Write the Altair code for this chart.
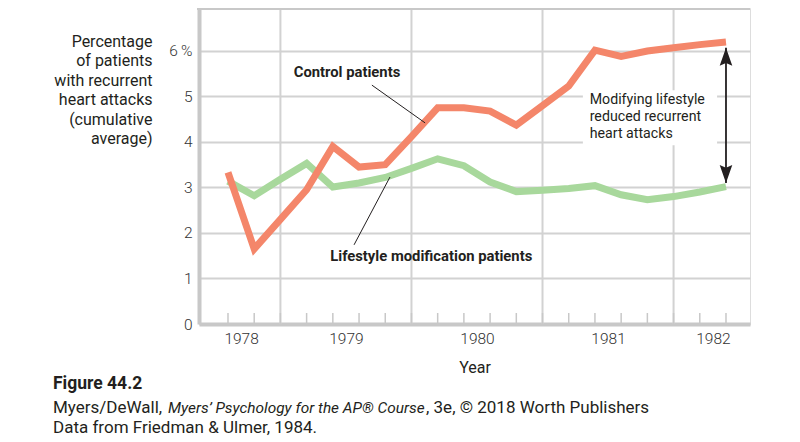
import altair as alt
import pandas as pd

# ---------------- data ----------------
period = list(range(20))  # quarterly observations, 1978-1982
control = [3.33, 1.65, 2.30, 2.95, 3.90, 3.45, 3.50, 4.12, 4.75, 4.75,
           4.68, 4.37, 4.80, 5.23, 6.02, 5.88, 6.00, 6.07, 6.14, 6.20]
lifestyle = [3.14, 2.82, 3.18, 3.53, 3.01, 3.10, 3.22, 3.42, 3.63, 3.48,
             3.12, 2.91, 2.94, 2.98, 3.04, 2.84, 2.73, 2.80, 2.90, 3.02]

year_labels = ["1978", "1979", "1980", "1981", "1982"]
year_pos = [0.5, 4.5, 9.5, 14.5, 18.5]
grid_x = [2, 7, 12, 17]
y_ticks = [0, 1, 2, 3, 4, 5, 6]

ann_text = ["Control patients", "Lifestyle modification patients"]
ann_x = [4.54, 3.9]
ann_y = [5.52, 1.48]
leader_x = [5.49, 4.81]
leader_y = [5.25, 1.74]
leader_x2 = [7.52, 6.18]
leader_y2 = [4.42, 3.23]

note_lines = ["Modifying lifestyle", "reduced recurrent", "heart attacks"]
note_x = [13.8, 13.8, 13.8]
note_y = [4.92, 4.55, 4.18]
note_box = [13.54, 18.66, 3.93, 5.14]  # x, x2, y, y2

arrow_x = 19
arrow_top = 6.07
arrow_bottom = 3.10

y_title = ["Percentage", "of patients", "with recurrent", "heart attacks",
           "(cumulative", "average)"]
footer_fig = "Figure 44.2"
footer_src = ["Myers/DeWall, ", "Myers\u2019 Psychology for the AP\u00ae Course",
              ", 3e, \u00a9 2018 Worth Publishers"]
footer_data = "Data from Friedman & Ulmer, 1984."

# ---------------- layout ----------------
W, H = 551, 316
XDOM = [-1.106, 19.916]
YDOM = [0, 6.945]
FONT = "Roboto"
DARK = "#231f20"
ORANGE = "#f4866a"
GREEN = "#a8d89c"
AXISGRAY = "#c8c8c8"
GRIDGRAY = "#d2d2d2"

xs = alt.Scale(domain=XDOM, nice=False, zero=False)
ys = alt.Scale(domain=YDOM, nice=False, zero=False)

df = pd.DataFrame({"period": period * 2,
                   "value": control + lifestyle,
                   "group": ["Control"] * 20 + ["Lifestyle"] * 20})

label_expr = "".join(
    f"datum.value == {p} ? '{l}' : " for p, l in zip(year_pos, year_labels)
) + "''"

XA = alt.Axis(
    values=year_pos, labelExpr=label_expr, grid=False, ticks=False,
    tickSize=0, domainColor=AXISGRAY, domainWidth=4, labelFont=FONT,
    labelFontSize=15.5, labelFontWeight=300, labelColor="#333333",
    labelPadding=7, labelFlush=False, title="Year", titleFont=FONT,
    titleFontSize=16, titleFontWeight="normal", titleColor=DARK,
    titleY=48, titleBaseline="alphabetic",
)
YA = alt.Axis(
    values=y_ticks, labelExpr="datum.value == 6 ? '6\u2009%' : datum.label",
    grid=True, gridColor=GRIDGRAY, gridWidth=2, ticks=False, tickSize=0,
    domainColor=AXISGRAY, domainWidth=4, labelFont=FONT, labelFontSize=15.5,
    labelFontWeight=300, labelColor="#333333", labelPadding=7,
    title=y_title, titleFont=FONT, titleFontSize=16, titleFontWeight="normal",
    titleColor=DARK, titleAngle=0, titleAlign="right", titleBaseline="top",
    titleX=-47, titleY=25, titleLineHeight=19.5,
)


def X(f):
    return alt.X(f, scale=xs, axis=XA)


def Y(f):
    return alt.Y(f, scale=ys, axis=YA)


# vertical grid lines
vgrid = alt.Chart(pd.DataFrame({"g": grid_x})).mark_rule(
    color=GRIDGRAY, strokeWidth=2
).encode(x=X("g:Q"), y=alt.value(0), y2=alt.value(H))

# minor ticks along the bottom
ticks = alt.Chart(pd.DataFrame({"t": period})).mark_rule(
    color=AXISGRAY, strokeWidth=1.5
).encode(x=X("t:Q"), y=alt.value(H - 11), y2=alt.value(H))

# top border
top_border = alt.Chart(pd.DataFrame({"a": [0]})).mark_rule(
    color=AXISGRAY, strokeWidth=4
).encode(x=alt.value(-2), x2=alt.value(W), y=alt.value(0))

# white box behind note
box = alt.Chart(pd.DataFrame({"x": [note_box[0]], "x2": [note_box[1]],
                              "y": [note_box[2]], "y2": [note_box[3]]})).mark_rect(
    color="white"
).encode(x=X("x:Q"), x2="x2:Q", y=Y("y:Q"), y2="y2:Q")

lines = alt.Chart(df).mark_line(strokeWidth=7, strokeJoin="miter",
                                strokeCap="butt").encode(
    x=X("period:Q"),
    y=Y("value:Q"),
    color=alt.Color("group:N", scale=alt.Scale(domain=["Lifestyle", "Control"],
                                               range=[GREEN, ORANGE]),
                    legend=None),
    order=alt.Order("period:Q"),
)
line_g = lines.transform_filter(alt.datum.group == "Lifestyle")
line_c = lines.transform_filter(alt.datum.group == "Control")

leaders = alt.Chart(pd.DataFrame({"x": leader_x, "y": leader_y,
                                  "x2": leader_x2, "y2": leader_y2})).mark_rule(
    color=DARK, strokeWidth=1
).encode(x=X("x:Q"), x2="x2:Q", y=Y("y:Q"), y2="y2:Q")

ann_df = pd.DataFrame({"x": ann_x, "y": ann_y, "t": ann_text})
ann_c = alt.Chart(ann_df.iloc[[0]]).mark_text(
    font=FONT, fontSize=14.8, fontWeight="bold", color=DARK, align="center",
    baseline="middle"
).encode(x=X("x:Q"), y=Y("y:Q"), text="t:N")
ann_l = alt.Chart(ann_df.iloc[[1]]).mark_text(
    font=FONT, fontSize=14.8, fontWeight="bold", color=DARK, align="left",
    baseline="middle"
).encode(x=X("x:Q"), y=Y("y:Q"), text="t:N")

note = alt.Chart(pd.DataFrame({"t": note_lines, "x": note_x, "y": note_y})).mark_text(
    font=FONT, fontSize=14.2, color=DARK, align="left", baseline="middle"
).encode(x=X("x:Q"), y=Y("y:Q"), text="t:N")

arrow_df = pd.DataFrame({"x": [arrow_x], "y": [arrow_top], "y2": [arrow_bottom]})
arrow_line = alt.Chart(arrow_df).mark_rule(color=DARK, strokeWidth=1.8).encode(
    x=X("x:Q"), y=Y("y:Q"), y2="y2:Q")
head_up = alt.Chart(arrow_df).mark_point(
    shape="M0,0 L-0.7,2 L0,1.7 L0.7,2 Z", size=324, filled=True,
    color=DARK, opacity=1, strokeWidth=0
).encode(x=X("x:Q"), y=Y("y:Q"))
head_down = alt.Chart(arrow_df).mark_point(
    shape="M0,0 L-0.7,-2 L0,-1.7 L0.7,-2 Z", size=324, filled=True,
    color=DARK, opacity=1, strokeWidth=0
).encode(x=X("x:Q"), y=Y("y2:Q"))


# footer
def foot(text, x, y, size=17, weight="normal", style="normal"):
    return alt.Chart(pd.DataFrame({"t": [text]})).mark_text(
        font=FONT, fontSize=size, fontWeight=weight, fontStyle=style,
        color=DARK, align="left", baseline="middle"
    ).encode(x=alt.value(x), y=alt.value(y), text="t:N")


foot_fig = foot(footer_fig, -146, 376, size=17.5, weight="bold")
foot_s1 = foot(footer_src[0], -146, 400)
foot_s2 = foot(footer_src[1], -31, 400, size=15.4, style="italic")
foot_s3 = foot(footer_src[2], 227, 400)
foot_data = foot(footer_data, -146, 420)

chart = alt.layer(
    vgrid, ticks, top_border, box, line_g, line_c, leaders, ann_c, ann_l,
    note, arrow_line, head_up, head_down, foot_fig, foot_s1, foot_s2, foot_s3,
    foot_data
).properties(
    width=W, height=H,
    autosize=alt.AutoSizeParams(type="none"),
    padding={"left": 191, "top": 0, "right": 784 - 191 - W, "bottom": 117},
).configure_view(stroke=None).configure(background="white")

chart.save("out.html", embed_options={"renderer": "svg", "actions": False})
